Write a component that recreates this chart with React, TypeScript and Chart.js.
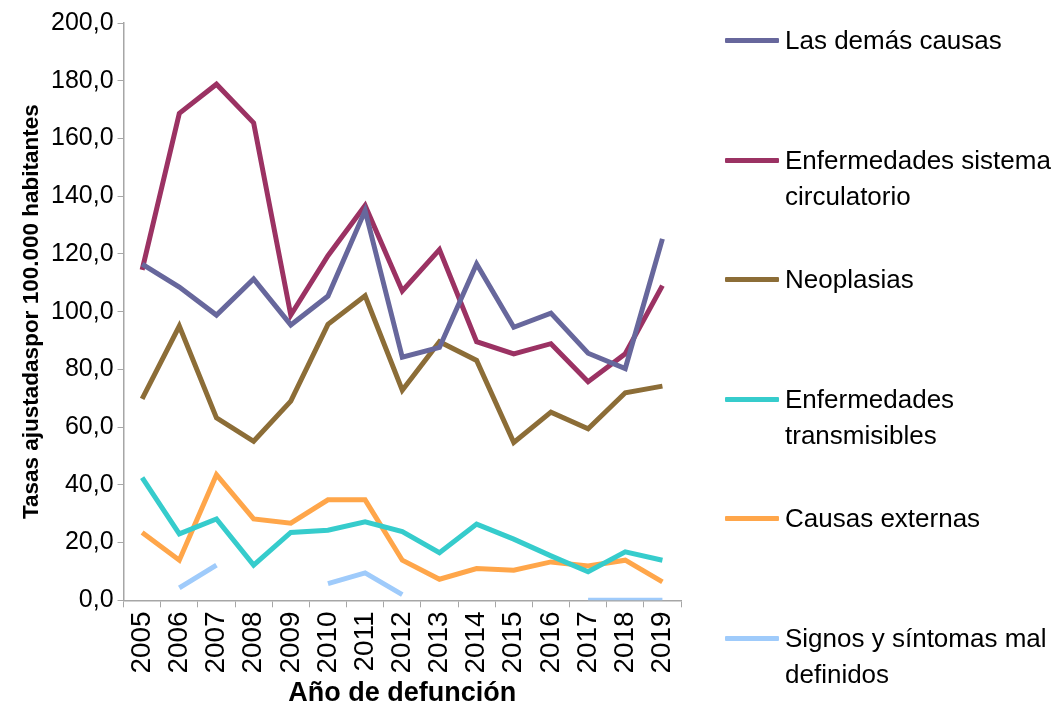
import React, { useEffect, useRef } from "react";
import { Chart, registerables } from "chart.js";

Chart.register(...registerables);

const years = ["2005","2006","2007","2008","2009","2010","2011","2012","2013","2014","2015","2016","2017","2018","2019"];
const lasDemas = [116.5,108.5,98.8,111.3,95.4,105.4,135.0,84.2,87.6,116.5,94.6,99.5,85.6,80.3,125.2];
const circulatorio = [114.5,168.7,178.8,165.4,98.8,119.4,136.8,107.2,121.5,89.6,85.4,88.9,75.7,85.4,109.0];
const neoplasias = [69.8,95.0,63.2,55.1,69.0,95.6,105.5,72.8,89.6,83.1,54.7,65.2,59.4,71.9,74.2];
const transmisibles = [42.5,23.0,28.2,12.2,23.5,24.3,27.2,23.8,16.5,26.4,21.2,15.4,9.9,16.8,13.9];
const externas = [23.5,13.9,43.5,28.2,26.7,34.8,34.8,13.9,7.3,11.0,10.4,13.3,11.9,13.9,6.4];
const signos = [null,4.3,12.2,null,null,5.8,9.5,2.0,null,null,null,null,0,0,0];

const seriesNames = [
  ["Las demás causas"],
  ["Enfermedades sistema", "circulatorio"],
  ["Neoplasias"],
  ["Enfermedades", "transmisibles"],
  ["Causas externas"],
  ["Signos y síntomas mal", "definidos"],
];
const seriesColors = ["#67679c", "#9b3263", "#8c6d37", "#36cccc", "#ffa64a", "#9fcbfb"];
const seriesData = [lasDemas, circulatorio, neoplasias, transmisibles, externas, signos];

const FONT = "'Liberation Sans', Arial, sans-serif";

export default function App() {
  const ref = useRef<HTMLCanvasElement>(null);
  useEffect(() => {
    const chart = new Chart(ref.current!, {
      type: "line",
      data: {
        labels: years,
        datasets: seriesData.map((d, i) => ({
          label: seriesNames[i].join(" "),
          data: d,
          borderColor: seriesColors[i],
          backgroundColor: seriesColors[i],
          borderWidth: 5,
          pointRadius: 0,
          tension: 0,
          spanGaps: false,
          borderJoinStyle: "miter" as const,
        })),
      },
      options: {
        animation: false,
        responsive: true,
        maintainAspectRatio: false,
        layout: { padding: { top: 23, right: 373, left: 18, bottom: 0 } },
        plugins: { legend: { display: false }, tooltip: { enabled: false } },
        scales: {
          x: {
            offset: true,
            grid: { display: true, drawOnChartArea: false, drawTicks: true, tickLength: 7, offset: true, color: "#a6a6a6" },
            border: { color: "#a6a6a6", width: 1.5 },
            ticks: { color: "#000", font: { family: FONT, size: 28, lineHeight: 1 }, minRotation: 90, maxRotation: 90, autoSkip: false, padding: 4 },
            title: { display: true, text: "Año de defunción", color: "#000", font: { family: FONT, size: 27, weight: "bold" }, padding: { top: 0, bottom: 0 } },
          },
          y: {
            min: 0,
            max: 200,
            grid: { display: true, drawOnChartArea: false, drawTicks: true, tickLength: 6, color: "#a6a6a6" },
            border: { color: "#a6a6a6", width: 1.5 },
            ticks: {
              stepSize: 20,
              color: "#000",
              font: { family: FONT, size: 25 },
              padding: 4,
              callback: (v: any) => Number(v).toFixed(1).replace(".", ","),
            },
            title: { display: true, text: "Tasas ajustadaspor 100.000 habitantes", color: "#000", font: { family: FONT, size: 22.5, weight: "bold" }, padding: { top: 0, bottom: 2 } },
          },
        },
      },
    });
    return () => chart.destroy();
  }, []);

  return (
    <div style={{ position: "fixed", left: 0, top: 0, width: 1054, height: 705, background: "#fff", overflow: "hidden" }}>
      <div style={{ position: "absolute", left: 0, top: 0, width: 1054, height: 710 }}>
        <canvas ref={ref} />
      </div>
      {seriesNames.map((lines, i) => (
        <div key={i} style={{ position: "absolute", left: 725, top: 40 + i * 119.6 - 18, display: "flex", alignItems: "flex-start" }}>
          <div style={{ width: 54, height: 5, background: seriesColors[i], marginTop: 16, borderRadius: 1 }} />
          <div style={{ marginLeft: 6, fontFamily: FONT, fontSize: 26, lineHeight: "36px", color: "#000", whiteSpace: "nowrap" }}>
            {lines.map((l, j) => (<div key={j}>{l}</div>))}
          </div>
        </div>
      ))}
    </div>
  );
}
